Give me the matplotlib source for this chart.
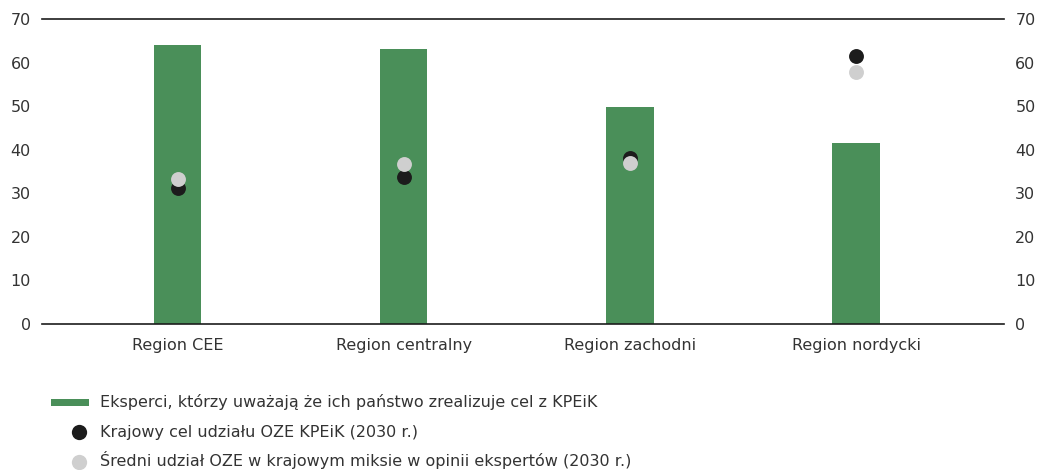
import matplotlib
matplotlib.use("Agg")
import matplotlib.pyplot as plt
from matplotlib.lines import Line2D
from matplotlib.patches import Rectangle

plt.rcParams['font.family'] = ['DejaVu Sans']

categories = ["Region CEE", "Region centralny", "Region zachodni", "Region nordycki"]
experts_share = [64, 63.1, 49.8, 41.6]
national_target = [31.3, 33.8, 38.1, 61.6]
expert_avg_share = [33.3, 36.8, 37.0, 57.8]
yticks = [0, 10, 20, 30, 40, 50, 60, 70]

labels = [
    "Eksperci, którzy uważają że ich państwo zrealizuje cel z KPEiK",
    "Krajowy cel udziału OZE KPEiK (2030 r.)",
    "Średni udział OZE w krajowym miksie w opinii ekspertów (2030 r.)",
]

GREEN = "#4a8f59"
BLACK = "#1c1c1c"
GREY = "#cfcfcf"
TXT = "#333333"
FS = 11.5

W, H = 1046, 470
fig = plt.figure(figsize=(W / 100, H / 100), dpi=100)
ax = fig.add_axes([0.040, 0.3106, 0.920, 0.649])

x = list(range(len(categories)))
ax.bar(x, experts_share, width=0.21, color=GREEN, zorder=2)
ax.scatter(x, national_target, s=115, color=BLACK, zorder=3, linewidths=0)
ax.scatter(x, expert_avg_share, s=115, color=GREY, zorder=4, linewidths=0)

ax.set_xlim(-0.6, 3.655)
ax.set_ylim(0, 70)
ax.set_xticks(x)
ax.set_xticklabels(categories, fontsize=FS, color=TXT)
ax.set_yticks(yticks)
ax.tick_params(axis='y', which='both', length=0, labelsize=FS, labelcolor=TXT,
               left=False, right=False, labelleft=True, labelright=True, pad=8)
ax.tick_params(axis='x', length=0, pad=10)
for s in ['left', 'right']:
    ax.spines[s].set_visible(False)
for s in ['top', 'bottom']:
    ax.spines[s].set_color(BLACK)
    ax.spines[s].set_linewidth(1.2)

# legend drawn manually in figure pixel coordinates
marker_y = [402, 432, 462]
baseline_y = [407, 437, 466]
def fy(py):
    return 1 - py / H

fig.add_artist(Rectangle((51 / W, fy(marker_y[0] + 3.5)), 38 / W, 7 / H,
                         transform=fig.transFigure, color=GREEN, lw=0))
fig.add_artist(Line2D([79 / W], [fy(marker_y[1])], transform=fig.transFigure,
                      marker='o', markersize=11, markerfacecolor=BLACK,
                      markeredgecolor='none', linestyle='none'))
fig.add_artist(Line2D([79 / W], [fy(marker_y[2])], transform=fig.transFigure,
                      marker='o', markersize=11, markerfacecolor=GREY,
                      markeredgecolor='none', linestyle='none'))
for lab, py in zip(labels, baseline_y):
    fig.text(100 / W, fy(py), lab, fontsize=FS, color=TXT, va='baseline', ha='left')

fig.savefig("out.png", dpi=100)
